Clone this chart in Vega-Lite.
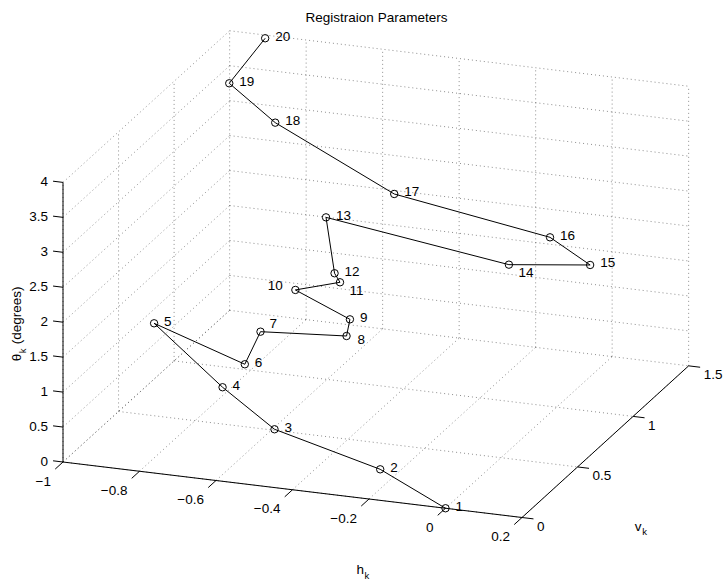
{
  "$schema": "https://vega.github.io/schema/vega-lite/v6.json",
  "width": 725,
  "height": 586,
  "padding": 0,
  "autosize": {"type": "none"},
  "background": "white",
  "config": {
    "view": {"stroke": null},
    "text": {"font": "Liberation Sans", "fontSize": 13.5, "color": "black"},
    "title": {"font": "Liberation Sans", "fontSize": 13.5, "fontWeight": "normal", "color": "black"}
  },
  "title": {"text": "Registraion Parameters", "offset": -35, "baseline": "alphabetic", "anchor": "middle", "dx": 14},
  "datasets": {
    "registration": [
      {"k": 1, "h": 0.0, "v": 0.0, "theta": 0.0},
      {"k": 2, "h": -0.214, "v": 0.149, "theta": 0.2},
      {"k": 3, "h": -0.524, "v": 0.265, "theta": 0.4},
      {"k": 4, "h": -0.715, "v": 0.455, "theta": 0.6},
      {"k": 5, "h": -0.982, "v": 0.758, "theta": 0.9},
      {"k": 6, "h": -0.651, "v": 0.435, "theta": 1.0},
      {"k": 7, "h": -0.662, "v": 0.614, "theta": 1.2},
      {"k": 8, "h": -0.417, "v": 0.545, "theta": 1.4},
      {"k": 9, "h": -0.416, "v": 0.572, "theta": 1.6},
      {"k": 10, "h": -0.581, "v": 0.649, "theta": 1.8},
      {"k": 11, "h": -0.462, "v": 0.641, "theta": 2.0},
      {"k": 12, "h": -0.462, "v": 0.592, "theta": 2.2},
      {"k": 13, "h": -0.588, "v": 0.949, "theta": 2.4},
      {"k": 14, "h": -0.046, "v": 0.729, "theta": 2.4},
      {"k": 15, "h": 0.160, "v": 0.751, "theta": 2.5},
      {"k": 16, "h": 0.015, "v": 0.889, "theta": 2.6},
      {"k": 17, "h": -0.419, "v": 0.981, "theta": 2.8},
      {"k": 18, "h": -0.839, "v": 1.356, "theta": 3.0},
      {"k": 19, "h": -0.974, "v": 1.407, "theta": 3.4},
      {"k": 20, "h": -0.899, "v": 1.472, "theta": 4.0}
    ],
    "grid": [
      {"h1": -1, "v1": 0, "t1": 0, "h2": -1, "v2": 1.5, "t2": 0},
      {"h1": -0.8, "v1": 0, "t1": 0, "h2": -0.8, "v2": 1.5, "t2": 0},
      {"h1": -0.6, "v1": 0, "t1": 0, "h2": -0.6, "v2": 1.5, "t2": 0},
      {"h1": -0.4, "v1": 0, "t1": 0, "h2": -0.4, "v2": 1.5, "t2": 0},
      {"h1": -0.2, "v1": 0, "t1": 0, "h2": -0.2, "v2": 1.5, "t2": 0},
      {"h1": 0, "v1": 0, "t1": 0, "h2": 0, "v2": 1.5, "t2": 0},
      {"h1": 0.2, "v1": 0, "t1": 0, "h2": 0.2, "v2": 1.5, "t2": 0},
      {"h1": -1, "v1": 0, "t1": 0, "h2": 0.2, "v2": 0, "t2": 0},
      {"h1": -1, "v1": 0.5, "t1": 0, "h2": 0.2, "v2": 0.5, "t2": 0},
      {"h1": -1, "v1": 1, "t1": 0, "h2": 0.2, "v2": 1, "t2": 0},
      {"h1": -1, "v1": 1.5, "t1": 0, "h2": 0.2, "v2": 1.5, "t2": 0},
      {"h1": -1, "v1": 1.5, "t1": 0, "h2": -1, "v2": 1.5, "t2": 4},
      {"h1": -0.8, "v1": 1.5, "t1": 0, "h2": -0.8, "v2": 1.5, "t2": 4},
      {"h1": -0.6, "v1": 1.5, "t1": 0, "h2": -0.6, "v2": 1.5, "t2": 4},
      {"h1": -0.4, "v1": 1.5, "t1": 0, "h2": -0.4, "v2": 1.5, "t2": 4},
      {"h1": -0.2, "v1": 1.5, "t1": 0, "h2": -0.2, "v2": 1.5, "t2": 4},
      {"h1": 0, "v1": 1.5, "t1": 0, "h2": 0, "v2": 1.5, "t2": 4},
      {"h1": 0.2, "v1": 1.5, "t1": 0, "h2": 0.2, "v2": 1.5, "t2": 4},
      {"h1": -1, "v1": 1.5, "t1": 0.5, "h2": 0.2, "v2": 1.5, "t2": 0.5},
      {"h1": -1, "v1": 1.5, "t1": 1, "h2": 0.2, "v2": 1.5, "t2": 1},
      {"h1": -1, "v1": 1.5, "t1": 1.5, "h2": 0.2, "v2": 1.5, "t2": 1.5},
      {"h1": -1, "v1": 1.5, "t1": 2, "h2": 0.2, "v2": 1.5, "t2": 2},
      {"h1": -1, "v1": 1.5, "t1": 2.5, "h2": 0.2, "v2": 1.5, "t2": 2.5},
      {"h1": -1, "v1": 1.5, "t1": 3, "h2": 0.2, "v2": 1.5, "t2": 3},
      {"h1": -1, "v1": 1.5, "t1": 3.5, "h2": 0.2, "v2": 1.5, "t2": 3.5},
      {"h1": -1, "v1": 1.5, "t1": 4, "h2": 0.2, "v2": 1.5, "t2": 4},
      {"h1": -1, "v1": 0, "t1": 0, "h2": -1, "v2": 0, "t2": 4},
      {"h1": -1, "v1": 0.5, "t1": 0, "h2": -1, "v2": 0.5, "t2": 4},
      {"h1": -1, "v1": 1, "t1": 0, "h2": -1, "v2": 1, "t2": 4},
      {"h1": -1, "v1": 0, "t1": 0, "h2": -1, "v2": 1.5, "t2": 0},
      {"h1": -1, "v1": 0, "t1": 0.5, "h2": -1, "v2": 1.5, "t2": 0.5},
      {"h1": -1, "v1": 0, "t1": 1, "h2": -1, "v2": 1.5, "t2": 1},
      {"h1": -1, "v1": 0, "t1": 1.5, "h2": -1, "v2": 1.5, "t2": 1.5},
      {"h1": -1, "v1": 0, "t1": 2, "h2": -1, "v2": 1.5, "t2": 2},
      {"h1": -1, "v1": 0, "t1": 2.5, "h2": -1, "v2": 1.5, "t2": 2.5},
      {"h1": -1, "v1": 0, "t1": 3, "h2": -1, "v2": 1.5, "t2": 3},
      {"h1": -1, "v1": 0, "t1": 3.5, "h2": -1, "v2": 1.5, "t2": 3.5},
      {"h1": -1, "v1": 0, "t1": 4, "h2": -1, "v2": 1.5, "t2": 4}
    ],
    "axisLines": [
      {"h1": -1, "v1": 0, "t1": 0, "h2": 0.2, "v2": 0, "t2": 0},
      {"h1": 0.2, "v1": 0, "t1": 0, "h2": 0.2, "v2": 1.5, "t2": 0},
      {"h1": -1, "v1": 0, "t1": 0, "h2": -1, "v2": 0, "t2": 4}
    ],
    "hTicks": [
      {"value": -1, "label": "−1"},
      {"value": -0.8, "label": "−0.8"},
      {"value": -0.6, "label": "−0.6"},
      {"value": -0.4, "label": "−0.4"},
      {"value": -0.2, "label": "−0.2"},
      {"value": 0, "label": "0"},
      {"value": 0.2, "label": "0.2"}
    ],
    "vTicks": [
      {"value": 0, "label": "0"},
      {"value": 0.5, "label": "0.5"},
      {"value": 1, "label": "1"},
      {"value": 1.5, "label": "1.5"}
    ],
    "tTicks": [
      {"value": 0, "label": "0"},
      {"value": 0.5, "label": "0.5"},
      {"value": 1, "label": "1"},
      {"value": 1.5, "label": "1.5"},
      {"value": 2, "label": "2"},
      {"value": 2.5, "label": "2.5"},
      {"value": 3, "label": "3"},
      {"value": 3.5, "label": "3.5"},
      {"value": 4, "label": "4"}
    ],
    "axisMid": [
      {"axis": "h", "h": -0.4, "v": 0, "theta": 0},
      {"axis": "v", "h": 0.2, "v": 0.75, "theta": 0},
      {"axis": "theta", "h": -1, "v": 0, "theta": 2}
    ]
  },
  "layer": [
    {
      "data": {"name": "grid"},
      "transform": [
        {"calculate": "63 + 382.5 * (datum.h1 + 1) + 111.1 * datum.v1", "as": "px1"},
        {"calculate": "462 + 46.25 * (datum.h1 + 1) - 101.1 * datum.v1 - 69.9 * datum.t1", "as": "py1"},
        {"calculate": "63 + 382.5 * (datum.h2 + 1) + 111.1 * datum.v2", "as": "px2"},
        {"calculate": "462 + 46.25 * (datum.h2 + 1) - 101.1 * datum.v2 - 69.9 * datum.t2", "as": "py2"}
      ],
      "mark": {"type": "rule", "color": "black", "opacity": 0.45, "strokeWidth": 1, "strokeDash": [1, 3]},
      "encoding": {
        "x": {"field": "px1", "type": "quantitative", "scale": {"domain": [0, 725], "nice": false, "zero": false}, "axis": null},
        "y": {"field": "py1", "type": "quantitative", "scale": {"domain": [0, 586], "reverse": true, "nice": false, "zero": false}, "axis": null},
        "x2": {"field": "px2"},
        "y2": {"field": "py2"}
      }
    },
    {
      "data": {"name": "axisLines"},
      "transform": [
        {"calculate": "63 + 382.5 * (datum.h1 + 1) + 111.1 * datum.v1", "as": "px1"},
        {"calculate": "462 + 46.25 * (datum.h1 + 1) - 101.1 * datum.v1 - 69.9 * datum.t1", "as": "py1"},
        {"calculate": "63 + 382.5 * (datum.h2 + 1) + 111.1 * datum.v2", "as": "px2"},
        {"calculate": "462 + 46.25 * (datum.h2 + 1) - 101.1 * datum.v2 - 69.9 * datum.t2", "as": "py2"}
      ],
      "mark": {"type": "rule", "color": "black", "strokeWidth": 1},
      "encoding": {
        "x": {"field": "px1", "type": "quantitative", "scale": {"domain": [0, 725], "nice": false, "zero": false}, "axis": null},
        "y": {"field": "py1", "type": "quantitative", "scale": {"domain": [0, 586], "reverse": true, "nice": false, "zero": false}, "axis": null},
        "x2": {"field": "px2"},
        "y2": {"field": "py2"}
      }
    },
    {
      "data": {"name": "hTicks"},
      "transform": [
        {"calculate": "63 + 382.5 * (datum.value + 1)", "as": "px1"},
        {"calculate": "462 + 46.25 * (datum.value + 1)", "as": "py1"},
        {"calculate": "datum.px1 - 0.07 * 111.1", "as": "px2"},
        {"calculate": "datum.py1 + 0.07 * 101.1", "as": "py2"}
      ],
      "layer": [
        {
          "mark": {"type": "rule", "color": "black", "strokeWidth": 1},
          "encoding": {
            "x": {"field": "px1", "type": "quantitative", "scale": {"domain": [0, 725], "nice": false, "zero": false}, "axis": null},
            "y": {"field": "py1", "type": "quantitative", "scale": {"domain": [0, 586], "reverse": true, "nice": false, "zero": false}, "axis": null},
            "x2": {"field": "px2"},
            "y2": {"field": "py2"}
          }
        },
        {
          "mark": {"type": "text", "align": "right", "baseline": "middle", "xOffset": -12, "yOffset": 19.5},
          "encoding": {
            "x": {"field": "px1", "type": "quantitative", "scale": {"domain": [0, 725], "nice": false, "zero": false}, "axis": null},
            "y": {"field": "py1", "type": "quantitative", "scale": {"domain": [0, 586], "reverse": true, "nice": false, "zero": false}, "axis": null},
            "text": {"field": "label"}
          }
        }
      ]
    },
    {
      "data": {"name": "vTicks"},
      "transform": [
        {"calculate": "63 + 382.5 * 1.2 + 111.1 * datum.value", "as": "px1"},
        {"calculate": "462 + 46.25 * 1.2 - 101.1 * datum.value", "as": "py1"},
        {"calculate": "datum.px1 + 0.03 * 382.5", "as": "px2"},
        {"calculate": "datum.py1 + 0.03 * 46.25", "as": "py2"}
      ],
      "layer": [
        {
          "mark": {"type": "rule", "color": "black", "strokeWidth": 1},
          "encoding": {
            "x": {"field": "px1", "type": "quantitative", "scale": {"domain": [0, 725], "nice": false, "zero": false}, "axis": null},
            "y": {"field": "py1", "type": "quantitative", "scale": {"domain": [0, 586], "reverse": true, "nice": false, "zero": false}, "axis": null},
            "x2": {"field": "px2"},
            "y2": {"field": "py2"}
          }
        },
        {
          "mark": {"type": "text", "align": "left", "baseline": "middle", "xOffset": 15, "yOffset": 9.5},
          "encoding": {
            "x": {"field": "px1", "type": "quantitative", "scale": {"domain": [0, 725], "nice": false, "zero": false}, "axis": null},
            "y": {"field": "py1", "type": "quantitative", "scale": {"domain": [0, 586], "reverse": true, "nice": false, "zero": false}, "axis": null},
            "text": {"field": "label"}
          }
        }
      ]
    },
    {
      "data": {"name": "tTicks"},
      "transform": [
        {"calculate": "63", "as": "px1"},
        {"calculate": "462 - 69.9 * datum.value", "as": "py1"},
        {"calculate": "datum.px1 - 0.026 * 382.5", "as": "px2"},
        {"calculate": "datum.py1 - 0.026 * 46.25", "as": "py2"}
      ],
      "layer": [
        {
          "mark": {"type": "rule", "color": "black", "strokeWidth": 1},
          "encoding": {
            "x": {"field": "px1", "type": "quantitative", "scale": {"domain": [0, 725], "nice": false, "zero": false}, "axis": null},
            "y": {"field": "py1", "type": "quantitative", "scale": {"domain": [0, 586], "reverse": true, "nice": false, "zero": false}, "axis": null},
            "x2": {"field": "px2"},
            "y2": {"field": "py2"}
          }
        },
        {
          "mark": {"type": "text", "align": "right", "baseline": "middle", "xOffset": -15, "yOffset": 0},
          "encoding": {
            "x": {"field": "px1", "type": "quantitative", "scale": {"domain": [0, 725], "nice": false, "zero": false}, "axis": null},
            "y": {"field": "py1", "type": "quantitative", "scale": {"domain": [0, 586], "reverse": true, "nice": false, "zero": false}, "axis": null},
            "text": {"field": "label"}
          }
        }
      ]
    },
    {
      "data": {"name": "axisMid"},
      "transform": [
        {"calculate": "63 + 382.5 * (datum.h + 1) + 111.1 * datum.v", "as": "px"},
        {"calculate": "462 + 46.25 * (datum.h + 1) - 101.1 * datum.v - 69.9 * datum.theta", "as": "py"}
      ],
      "encoding": {
        "x": {"field": "px", "type": "quantitative", "scale": {"domain": [0, 725], "nice": false, "zero": false}, "axis": null},
        "y": {"field": "py", "type": "quantitative", "scale": {"domain": [0, 586], "reverse": true, "nice": false, "zero": false}, "axis": null}
      },
      "layer": [
        {"transform": [{"filter": "datum.axis === 'h'"}], "mark": {"type": "text", "align": "left", "baseline": "alphabetic", "xOffset": 64, "yOffset": 84.5, "text": "h"}},
        {"transform": [{"filter": "datum.axis === 'h'"}], "mark": {"type": "text", "align": "left", "baseline": "alphabetic", "xOffset": 72, "yOffset": 89, "fontSize": 9.5, "text": "k"}},
        {"transform": [{"filter": "datum.axis === 'v'"}], "mark": {"type": "text", "align": "left", "baseline": "alphabetic", "xOffset": 29.5, "yOffset": 89, "text": "v"}},
        {"transform": [{"filter": "datum.axis === 'v'"}], "mark": {"type": "text", "align": "left", "baseline": "alphabetic", "xOffset": 37, "yOffset": 93.5, "fontSize": 9.5, "text": "k"}},
        {"transform": [{"filter": "datum.axis === 'theta'"}], "mark": {"type": "text", "align": "left", "baseline": "alphabetic", "angle": 270, "xOffset": -42, "yOffset": 39, "text": "θ"}},
        {"transform": [{"filter": "datum.axis === 'theta'"}], "mark": {"type": "text", "align": "left", "baseline": "alphabetic", "angle": 270, "xOffset": -37.5, "yOffset": 31, "fontSize": 9.5, "text": "k"}},
        {"transform": [{"filter": "datum.axis === 'theta'"}], "mark": {"type": "text", "align": "left", "baseline": "alphabetic", "angle": 270, "xOffset": -42, "yOffset": 22, "text": "(degrees)"}}
      ]
    },
    {
      "data": {"name": "registration"},
      "transform": [
        {"calculate": "63 + 382.5 * (datum.h + 1) + 111.1 * datum.v", "as": "px"},
        {"calculate": "462 + 46.25 * (datum.h + 1) - 101.1 * datum.v - 69.9 * datum.theta", "as": "py"}
      ],
      "encoding": {
        "x": {"field": "px", "type": "quantitative", "scale": {"domain": [0, 725], "nice": false, "zero": false}, "axis": null},
        "y": {"field": "py", "type": "quantitative", "scale": {"domain": [0, 586], "reverse": true, "nice": false, "zero": false}, "axis": null}
      },
      "layer": [
        {"mark": {"type": "line", "color": "black", "strokeWidth": 1}, "encoding": {"order": {"field": "k", "type": "quantitative"}}},
        {"mark": {"type": "point", "shape": "circle", "filled": false, "size": 55, "stroke": "black", "strokeWidth": 1, "opacity": 1}},
        {
          "transform": [{"filter": {"not": {"field": "k", "oneOf": [7, 8, 10, 11, 14]}}}],
          "mark": {"type": "text", "align": "left", "baseline": "middle", "xOffset": 10, "yOffset": -1.5},
          "encoding": {"text": {"field": "k", "type": "quantitative"}}
        },
        {
          "transform": [{"filter": {"field": "k", "equal": 7}}],
          "mark": {"type": "text", "align": "left", "baseline": "middle", "xOffset": 9, "yOffset": -7.5},
          "encoding": {"text": {"field": "k", "type": "quantitative"}}
        },
        {
          "transform": [{"filter": {"field": "k", "equal": 8}}],
          "mark": {"type": "text", "align": "left", "baseline": "middle", "xOffset": 11, "yOffset": 4},
          "encoding": {"text": {"field": "k", "type": "quantitative"}}
        },
        {
          "transform": [{"filter": {"field": "k", "oneOf": [11, 14]}}],
          "mark": {"type": "text", "align": "left", "baseline": "middle", "xOffset": 9.5, "yOffset": 8.5},
          "encoding": {"text": {"field": "k", "type": "quantitative"}}
        },
        {
          "transform": [{"filter": {"field": "k", "equal": 10}}],
          "mark": {"type": "text", "align": "right", "baseline": "middle", "xOffset": -12.5, "yOffset": -4.3},
          "encoding": {"text": {"field": "k", "type": "quantitative"}}
        }
      ]
    }
  ]
}
